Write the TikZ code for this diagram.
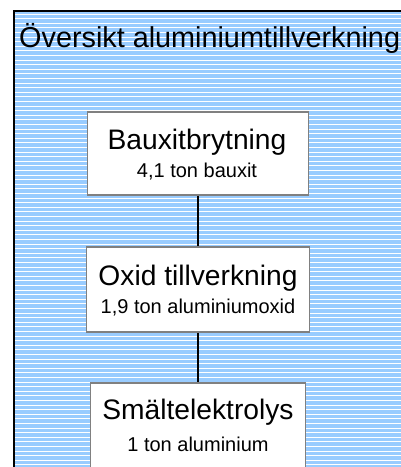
\documentclass[tikz,border=0pt]{standalone}
\usepackage{fontspec}
\setmainfont{Liberation Sans}
\definecolor{bgblue}{HTML}{99CCFF}
\definecolor{boxgray}{HTML}{808080}
\tikzset{
  stagebox/.style={draw=boxgray, line width=1.6pt, fill=white, inner sep=0pt},
  headtext/.style={anchor=base, inner sep=0pt, font=\fontsize{28.2}{30}\selectfont},
  subtext/.style={anchor=base, inner sep=0pt, font=\fontsize{20}{22}\selectfont},
  link/.style={draw=black, line width=2pt}
}
\begin{document}
\begin{tikzpicture}[x=1pt,y=-1pt]
\useasboundingbox (0,0) rectangle (401,467);
% striped panel, running off the right and bottom edges
\begin{scope}
  \clip (0,0) rectangle (401,467);
  \fill[bgblue] (14,11) rectangle (420,480);
  \foreach \k in {0,...,100} {
    \draw[white, line width=1pt] (14,14+\k*4.6) -- (420,14+\k*4.6);
  }
  \draw[black, line width=1.4pt] (14,480) -- (14,11) -- (420,11);
\end{scope}
\node[anchor=base west, inner sep=0pt, font=\fontsize{28.8}{30}\selectfont] (title) at (19,47) {Översikt aluminiumtillverkning};
% process stages
\begin{scope}
  \clip (0,0) rectangle (401,467);
  \node[stagebox, minimum width=221pt, minimum height=83pt] (b1) at (198,153.5) {};
  \node[stagebox, minimum width=223pt, minimum height=85pt] (b2) at (198,289.5) {};
  \node[stagebox, minimum width=215pt, minimum height=92pt] (b3) at (198,429) {};
\end{scope}
\node[headtext] (t1) at (197,149) {Bauxitbrytning};
\node[subtext] (s1) at (197,177) {4,1 ton bauxit};
\node[headtext] (t2) at (198,285) {Oxid tillverkning};
\node[subtext] (s2) at (198,313) {1,9 ton aluminiumoxid};
\node[headtext] (t3) at (198,419) {Smältelektrolys};
\node[subtext] (s3) at (198,451) {1 ton aluminium};
% connectors
\draw[link] (b1.south) -- (b2.north);
\draw[link] (b2.south) -- (b3.north);
\end{tikzpicture}
\end{document}
